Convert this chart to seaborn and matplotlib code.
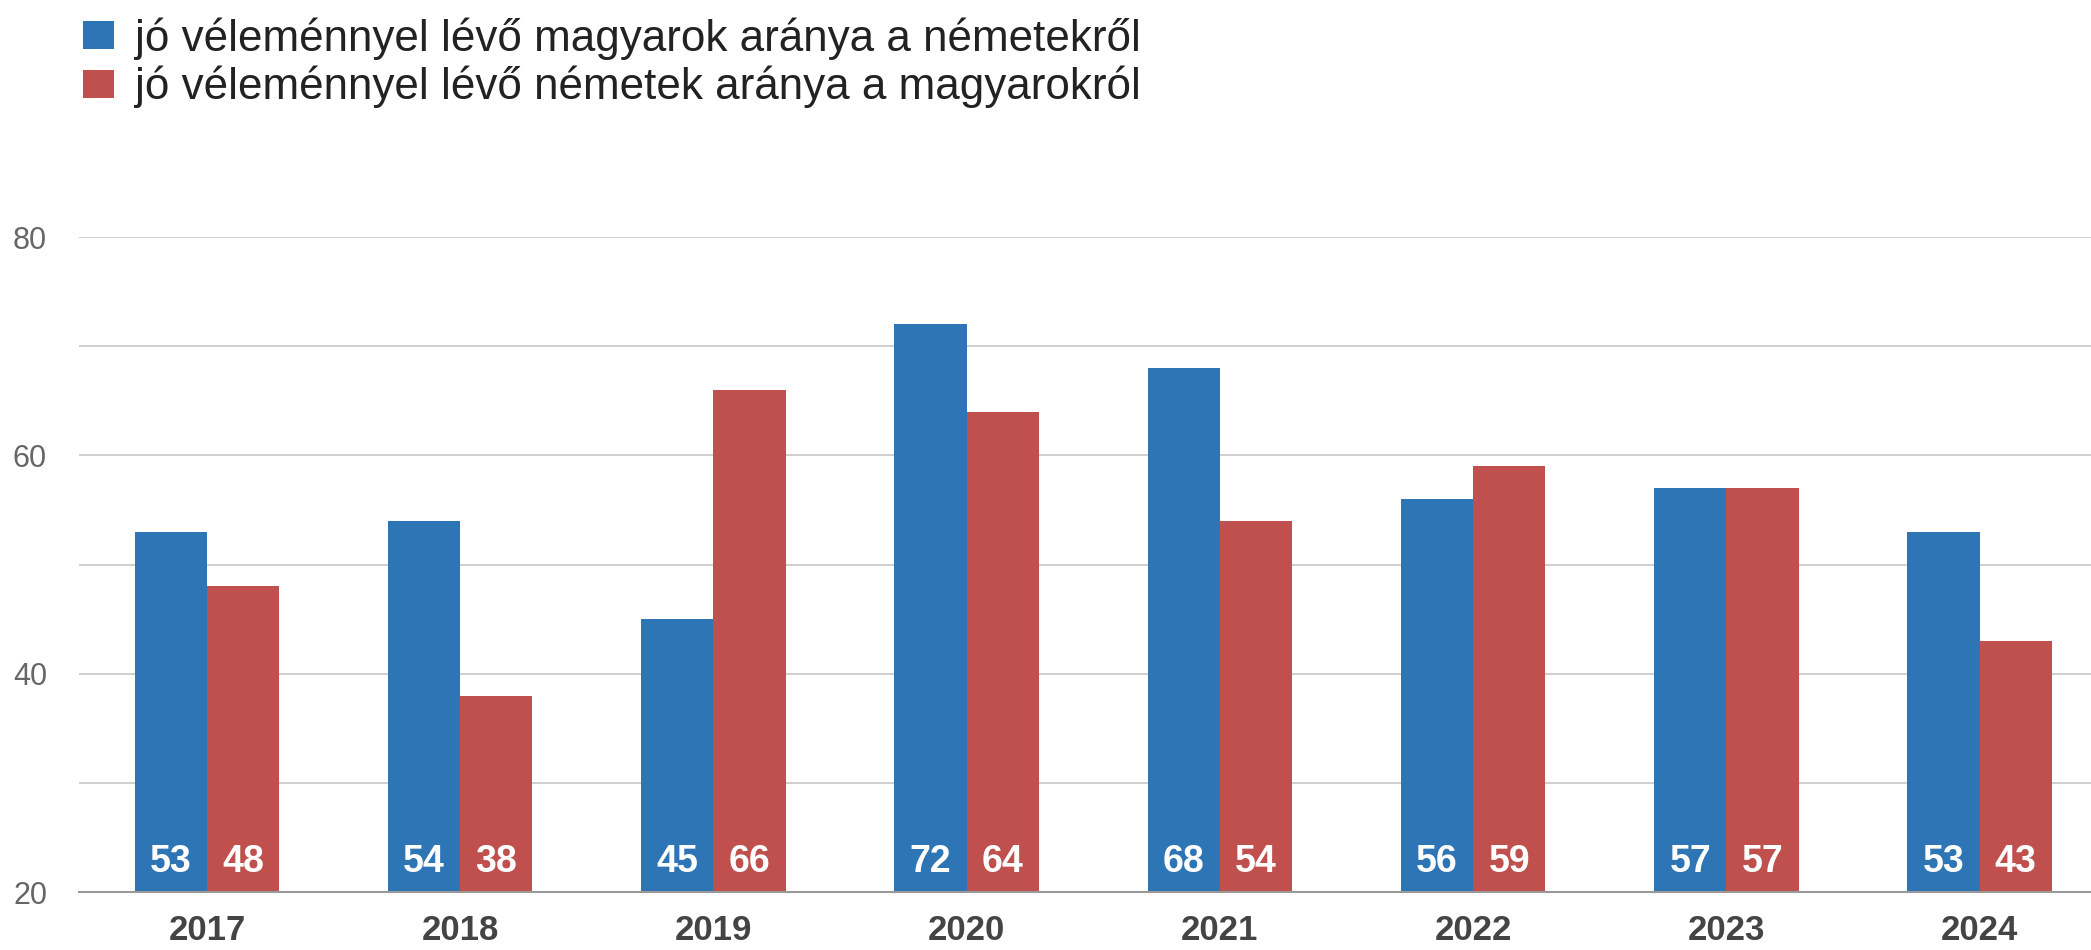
import matplotlib
matplotlib.use("Agg")
import matplotlib.pyplot as plt
import pandas as pd
import seaborn as sns
from matplotlib.patches import Patch

# Data
years = ["2017", "2018", "2019", "2020", "2021", "2022", "2023", "2024"]
hu_about_de = [53, 54, 45, 72, 68, 56, 57, 53]
de_about_hu = [48, 38, 66, 64, 54, 59, 57, 43]
series_names = [
    "jó véleménnyel lévő magyarok aránya a németekről",
    "jó véleménnyel lévő németek aránya a magyarokról",
]
colors = ["#2E75B6", "#C0504D"]

df = pd.DataFrame({
    "year": years * 2,
    "value": hu_about_de + de_about_hu,
    "series": [series_names[0]] * len(years) + [series_names[1]] * len(years),
})

sns.set_style("white")
plt.rcParams["font.family"] = ["Liberation Sans", "DejaVu Sans"]

fig = plt.figure(figsize=(20.91, 9.5), dpi=100)
ax = fig.add_axes([0.0378, 0.061, 0.9622, 0.6895])

sns.barplot(data=df, x="year", y="value", hue="series", palette=colors,
            width=0.57, saturation=1, linewidth=0, legend=False, ax=ax)

ax.set_ylim(20, 80)
ax.set_xlim(-0.505, 7.44)
ax.set_yticks(range(20, 81, 10))
ax.set_yticklabels(["20", "", "40", "", "60", "", "80"])
ax.yaxis.grid(True, color="#cccccc", linewidth=1.3)
ax.set_axisbelow(True)
for s in ["top", "right", "left"]:
    ax.spines[s].set_visible(False)
ax.spines["bottom"].set_color("#999999")
ax.spines["bottom"].set_linewidth(1.5)
ax.spines["bottom"].set_zorder(5)

ax.tick_params(axis="y", length=0, pad=23, labelsize=22, labelcolor="#666666")
ax.tick_params(axis="x", length=0, pad=16, labelsize=25, labelcolor="#444444")
for lbl in ax.get_xticklabels():
    lbl.set_fontweight("bold")
ax.set_xlabel("")
ax.set_ylabel("")

# value labels at the bottom of each bar
for container in ax.containers:
    for patch in container:
        h = patch.get_height()
        ax.annotate(f"{h:.0f}", xy=(patch.get_x() + patch.get_width() / 2, 20),
                    xytext=(0, 9), textcoords="offset points",
                    ha="center", va="bottom", color="white",
                    fontsize=27, fontweight="bold")

handles = [Patch(facecolor=c, edgecolor="none") for c in colors]
fig.legend(handles, series_names, loc="upper left", bbox_to_anchor=(0.0397, 0.982),
           frameon=False, fontsize=31.7, handlelength=0.7, handleheight=0.62,
           handletextpad=0.48, labelspacing=0.14, borderpad=0, borderaxespad=0,
           labelcolor="#222222")

fig.savefig("out.png", dpi=100)
